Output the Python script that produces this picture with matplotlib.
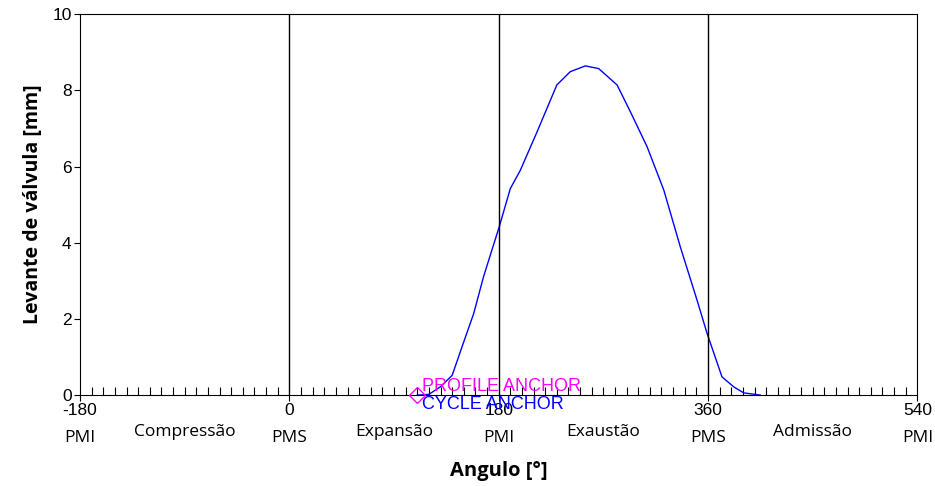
import matplotlib
matplotlib.use('Agg')
import matplotlib.pyplot as plt
from matplotlib.ticker import MultipleLocator
import numpy as np

# valve lift curve
angle = [110, 120, 130, 140, 150, 158.5, 167, 180.5, 190, 198.6, 213, 230, 241.6,
         254.5, 266, 281.8, 293.2, 307.6, 322, 336.2, 350.6, 359.2, 372, 382, 390.6, 405]
lift = [0.0, 0.02, 0.22, 0.52, 1.40, 2.14, 3.11, 4.42, 5.42, 5.90, 6.91, 8.14, 8.49,
        8.64, 8.57, 8.14, 7.44, 6.52, 5.38, 3.89, 2.49, 1.62, 0.48, 0.22, 0.06, 0.0]

major_ticks = [-180, 0, 180, 360, 540]
dead_centres = ['PMI', 'PMS', 'PMI', 'PMS', 'PMI']
phase_pos = [-90, 90, 270, 450]
phases = ['Compressão', 'Expansão', 'Exaustão', 'Admissão']
anchor_angle = 110

fig = plt.figure(figsize=(9.35, 4.86), dpi=100)
ax = fig.add_axes([0.0856, 0.187, 0.8955, 0.784])

ax.plot(angle, lift, color='#0000FF', linewidth=1.0)
for a in major_ticks[1:-1]:
    ax.axvline(a, color='black', linewidth=1.0)

ax.plot([anchor_angle], [0], marker='D', markersize=8, markerfacecolor='none',
        markeredgecolor='#FF00FF', markeredgewidth=1.0, clip_on=False, zorder=5)
ax.text(anchor_angle + 4, 0.22, 'PROFILE ANCHOR', color='#FF00FF', fontsize=13,
        family='Liberation Sans', va='center', ha='left')
ax.text(anchor_angle + 4, -0.24, 'CYCLE ANCHOR', color='#0000FF', fontsize=13,
        family='Liberation Sans', va='center', ha='left', clip_on=False)

ax.set_xlim(-180, 540)
ax.set_ylim(0, 10)
ax.set_xticks(major_ticks)
ax.set_xticklabels([str(t) for t in major_ticks], family='Liberation Sans', fontsize=12.5)
ax.set_yticks(range(0, 11, 2))
ax.set_yticklabels([str(t) for t in range(0, 11, 2)], family='Liberation Sans', fontsize=12.5)
ax.xaxis.set_minor_locator(MultipleLocator(10))
ax.tick_params(axis='x', which='major', direction='out', length=4, pad=1.5)
ax.tick_params(axis='x', which='minor', direction='in', length=5.5, width=0.8)
ax.tick_params(axis='y', which='major', direction='out', length=4, pad=2)

trans = ax.get_xaxis_transform()
for a, lab in zip(major_ticks, dead_centres):
    ax.text(a, -0.112, lab, transform=trans, ha='center', va='center',
            family='Open Sans', fontsize=12.5, clip_on=False)
for a, lab in zip(phase_pos, phases):
    ax.text(a, -0.098, lab, transform=trans, ha='center', va='center',
            family='Open Sans', fontsize=12.5, clip_on=False)

ax.text(180, -0.198, 'Angulo [°]', transform=trans, ha='center', va='center',
        family='Open Sans', fontweight='bold', fontsize=14.5)
ax.set_ylabel('Levante de válvula [mm]', family='Open Sans', fontweight='bold',
              fontsize=14, labelpad=7)

fig.savefig('out.png', dpi=100)
